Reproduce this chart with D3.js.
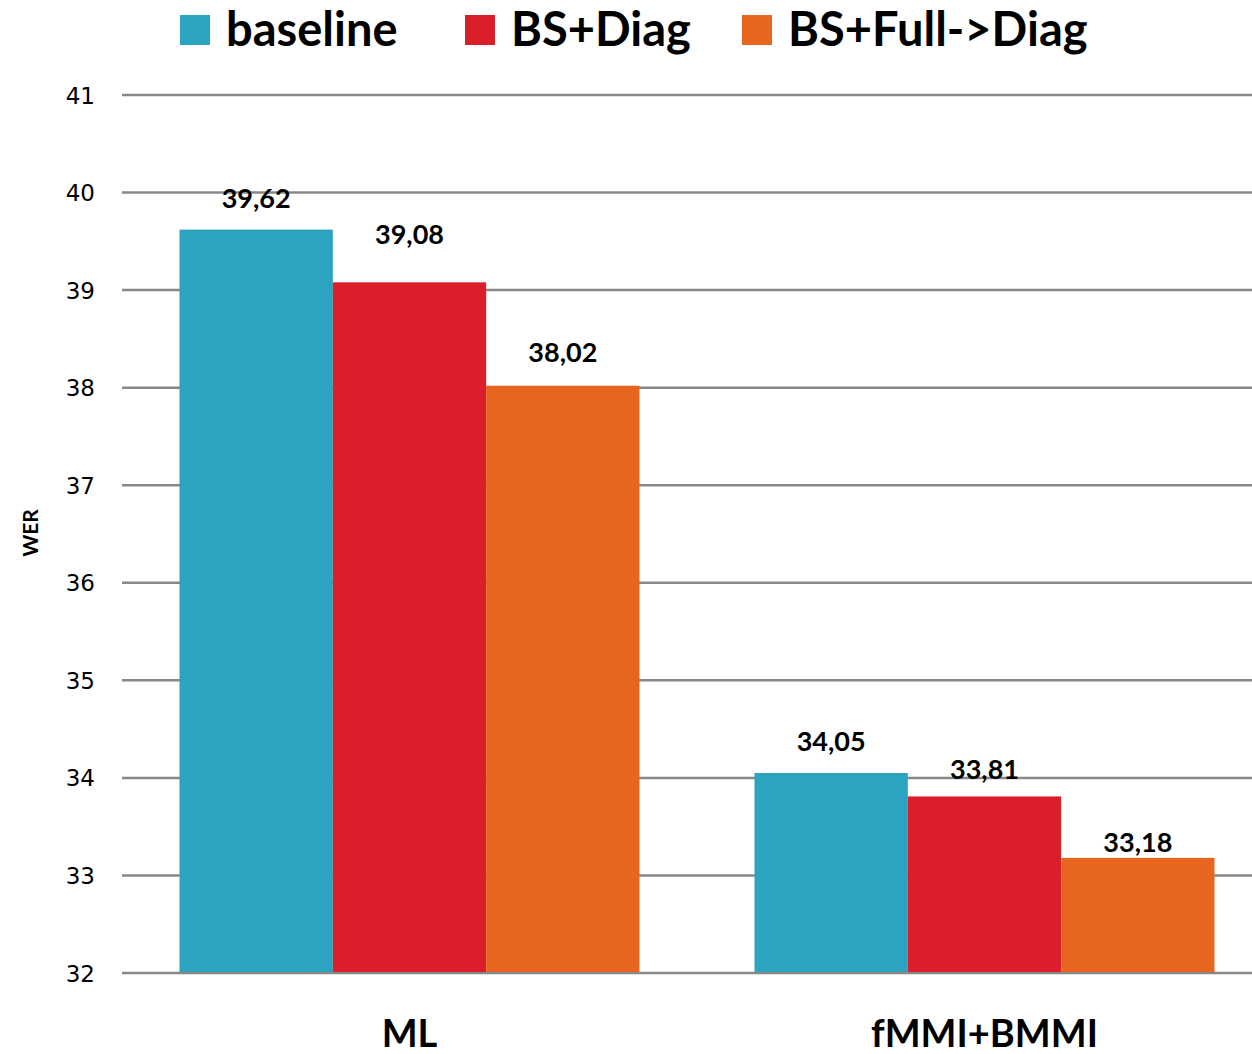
<!DOCTYPE html>
<html>
<head>
<meta charset="utf-8">
<script src="https://cdn.jsdelivr.net/npm/d3@7/dist/d3.min.js"></script>
<style>
  html, body { margin: 0; padding: 0; background: #fff; }
  svg { display: block; }
  text { font-family: "Lato", "DejaVu Sans Condensed", sans-serif; }
</style>
</head>
<body>
<script>
// WER per training setup and system
const categories = ["ML", "fMMI+BMMI"];
const seriesNames = ["baseline", "BS+Diag", "BS+Full->Diag"];
const seriesColors = ["#2ca3bf", "#da1f2a", "#e8651f"];
const baselineValues = [39.62, 34.05];
const bsDiagValues = [39.08, 33.81];
const bsFullDiagValues = [38.02, 33.18];
const yTicks = [32, 33, 34, 35, 36, 37, 38, 39, 40, 41];

const seriesValues = [baselineValues, bsDiagValues, bsFullDiagValues];

const W = 1252, H = 1054;
const svg = d3.select("body").append("svg").attr("width", W).attr("height", H);

// plot extends slightly past the right edge
const plot = { left: 122, right: 1272, top: 95, bottom: 973 };

const y = d3.scaleLinear().domain([32, 41]).range([plot.bottom, plot.top]);
const x0 = d3.scaleBand().domain(categories).range([plot.left, plot.right]).paddingInner(0.2).paddingOuter(0.1);
const x1 = d3.scaleBand().domain(seriesNames).range([0, x0.bandwidth()]);

// gridlines
svg.append("g")
  .selectAll("line")
  .data(yTicks)
  .join("line")
  .attr("x1", plot.left).attr("x2", W)
  .attr("y1", d => y(d)).attr("y2", d => y(d))
  .attr("stroke", "#888").attr("stroke-width", 2.5);

// y axis tick labels
const yAxis = d3.axisLeft(y).tickValues(yTicks).tickSize(0).tickPadding(0).tickFormat(d3.format("d"));
const yg = svg.append("g").attr("transform", `translate(95,0)`).call(yAxis);
yg.select(".domain").remove();
yg.selectAll("text")
  .attr("fill", "#000")
  .style("font-family", "'DejaVu Sans', sans-serif")
  .attr("font-size", 23)
  .attr("dy", "0.35em");

// axis title
svg.append("text")
  .attr("transform", `translate(38,533) rotate(-90)`)
  .attr("text-anchor", "middle")
  .attr("font-size", 21).attr("font-weight", "bold")
  .text("WER");

// bars
const rows = [];
categories.forEach((c, ci) => {
  seriesNames.forEach((s, si) => rows.push({ cat: c, ser: s, si, value: seriesValues[si][ci] }));
});

svg.append("g")
  .selectAll("rect")
  .data(rows)
  .join("rect")
  .attr("x", d => x0(d.cat) + x1(d.ser))
  .attr("width", x1.bandwidth())
  .attr("y", d => y(d.value))
  .attr("height", d => y(32) - y(d.value) - 1)
  .attr("fill", d => seriesColors[d.si]);

// value labels; lifts keep labels clear of gridlines and neighbours
const labelLift = [22, 38, 24, 22, 17, 6];
const fmt = v => d3.format(".2f")(v).replace(".", ",");
svg.append("g")
  .selectAll("text")
  .data(rows)
  .join("text")
  .attr("x", d => x0(d.cat) + x1(d.ser) + x1.bandwidth() / 2)
  .attr("y", (d, i) => y(d.value) - labelLift[i])
  .attr("text-anchor", "middle")
  .attr("font-size", 27).attr("font-weight", "bold")
  .text(d => fmt(d.value));

// category labels
const xAxis = d3.axisBottom(x0).tickSize(0).tickPadding(0);
const xg = svg.append("g").attr("transform", `translate(0,1047)`).call(xAxis);
xg.select(".domain").remove();
xg.selectAll("text")
  .attr("dy", 0).attr("y", 0)
  .attr("font-size", 38).attr("font-weight", "bold").attr("fill", "#000")
  .style("font-family", "'Lato', sans-serif");

// legend
const legendX = [180, 465, 742];
const lg = svg.append("g");
seriesNames.forEach((s, i) => {
  lg.append("rect").attr("x", legendX[i]).attr("y", 15).attr("width", 30).attr("height", 30).attr("fill", seriesColors[i]);
  lg.append("text").attr("x", legendX[i] + 46).attr("y", 46)
    .attr("font-size", 47).attr("font-weight", "bold").text(s);
});
</script>
</body>
</html>
